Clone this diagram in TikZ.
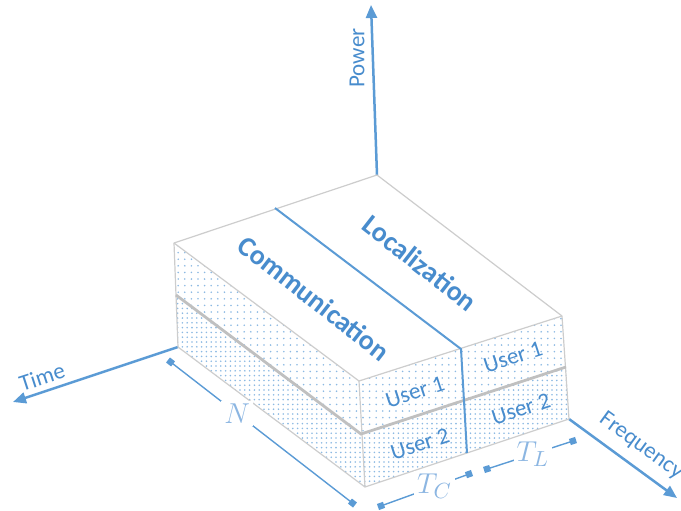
\documentclass[tikz,border=0pt]{standalone}
\usepackage{fontspec}
\setmainfont{Carlito}
\usepackage{tikz}
\usetikzlibrary{arrows.meta,patterns.meta}
\definecolor{axisBlue}{RGB}{91,155,213}
\definecolor{textBlue}{RGB}{72,140,205}
\definecolor{dimBlue}{RGB}{140,182,226}
\definecolor{edgeGray}{RGB}{205,205,205}
\definecolor{layerGray}{RGB}{192,192,192}
\tikzstyle{axis} = [draw=axisBlue, line width=1.25pt, -{Triangle[length=6.5pt,width=5.5pt]}]
\tikzstyle{edge} = [draw=edgeGray, line width=0.6pt, line join=round]
\tikzstyle{layer} = [draw=layerGray, line width=1.4pt]
\tikzstyle{upperFace} = [pattern={Dots[radius=0.45pt,distance=3.3pt]}, pattern color=axisBlue!70]
\tikzstyle{lowerFace} = [pattern={Dots[radius=0.45pt,distance=2.4pt]}, pattern color=axisBlue!70]
\tikzstyle{divider} = [draw=axisBlue, line width=1pt]
\tikzstyle{dimLine} = [draw=axisBlue, line width=0.7pt, {Square[length=3.2pt,width=3.2pt]}-{Square[length=3.2pt,width=3.2pt]}]
\tikzstyle{dimLabel} = [fill=white, text=dimBlue, font=\fontsize{15}{17}\selectfont, inner sep=1.5pt]
\tikzstyle{axisLabel} = [text=textBlue, font=\fontsize{11.5}{13}\selectfont]
\tikzstyle{userLabel} = [text=textBlue, font=\fontsize{11.5}{13}\selectfont, rotate=18]
\tikzstyle{taskLabel} = [text=textBlue, font=\fontsize{14}{16}\selectfont\bfseries, rotate=-38]

\begin{document}
\begin{tikzpicture}[x=0.5pt, y=-0.5pt]
    \useasboundingbox (0,0) rectangle (681,510);
    \coordinate (topBack) at (377,175);
    \coordinate (topLeft) at (174,243);
    \coordinate (midLeft) at (176,295);
    \coordinate (botLeft) at (178,347);
    \coordinate (topFront) at (359,381);
    \coordinate (midFront) at (361,434);
    \coordinate (botFront) at (365,487);
    \coordinate (topRight) at (562,316);
    \coordinate (midRight) at (566,367);
    \coordinate (botRight) at (569,419);
    \coordinate (splitBack) at (275,208);
    \coordinate (splitTop) at (461,349);
    \coordinate (splitMid) at (464,401);
    \coordinate (splitBot) at (467,453);
    \coordinate (powerTip) at (371,5);
    \coordinate (timeTip) at (13,402);
    \coordinate (freqTip) at (677,498);

    \draw [axis] (topBack) -- (powerTip);
    \draw [axis] (botLeft) -- (timeTip);
    \draw [axis] (botRight) -- (freqTip);
    \node [axisLabel, rotate=90] (powerLabel) at (357,58) {Power};
    \node [axisLabel, rotate=18] (timeLabel) at (42,377) {Time};
    \node [axisLabel, rotate=-36] (freqLabel) at (641,446) {Frequency};

    \fill [white] (topBack) -- (topLeft) -- (topFront) -- (topRight) -- cycle;
    \fill [upperFace] (topLeft) -- (topFront) -- (midFront) -- (midLeft) -- cycle;
    \fill [lowerFace] (midLeft) -- (midFront) -- (botFront) -- (botLeft) -- cycle;
    \fill [upperFace] (topFront) -- (topRight) -- (midRight) -- (midFront) -- cycle;
    \fill [lowerFace] (midFront) -- (midRight) -- (botRight) -- (botFront) -- cycle;

    \draw [edge] (topBack) -- (topLeft) -- (botLeft) -- (botFront) -- (botRight) -- (topRight) -- cycle;
    \draw [edge] (topLeft) -- (topFront) -- (topRight);
    \draw [edge] (topFront) -- (botFront);
    \draw [layer] (midLeft) -- (midFront) -- (midRight);
    \draw [divider] (splitBack) -- (splitTop) -- (splitBot);

    \node [taskLabel] (commLabel) at (314,298) {Communication};
    \node [taskLabel] (locLabel) at (420,263) {Localization};
    \node [userLabel] (commUserA) at (415,392) {User 1};
    \node [userLabel] (commUserB) at (420,444) {User 2};
    \node [userLabel] (locUserA) at (513,357) {User 1};
    \node [userLabel] (locUserB) at (521,409) {User 2};

    \coordinate (nStart) at (168,360);
    \coordinate (nEnd) at (355,505);
    \coordinate (tcStart) at (378,507);
    \coordinate (tcEnd) at (472,473);
    \coordinate (tlStart) at (484,470);
    \coordinate (tlEnd) at (576,440);
    \draw [dimLine] (nStart) -- node [dimLabel, pos=0.37] (nLabel) {$N$} (nEnd);
    \draw [dimLine] (tcStart) -- node [dimLabel, pos=0.6] (tcLabel) {$T_C$} (tcEnd);
    \draw [dimLine] (tlStart) -- node [dimLabel, pos=0.53] (tlLabel) {$T_L$} (tlEnd);
\end{tikzpicture}
\end{document}
